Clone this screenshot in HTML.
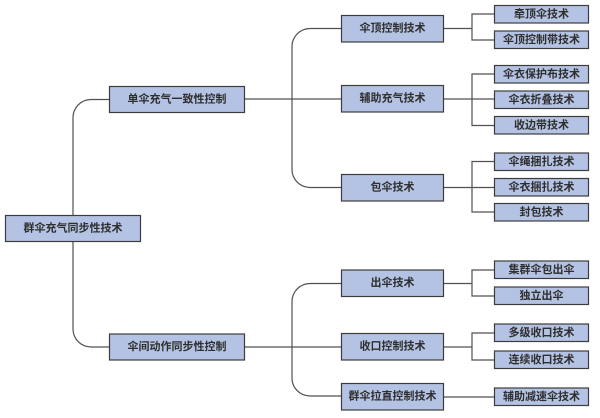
<!DOCTYPE html>
<html><head><meta charset="utf-8"><style>
html,body{margin:0;padding:0;background:#fff;}
svg{display:block;}
text{font-family:"Liberation Sans","Noto Sans CJK SC",sans-serif;font-size:11px;font-weight:bold;fill:#2e2e2e;text-anchor:middle;dominant-baseline:central;}
.b{fill:#b4c3e3;stroke:#3c3c3c;stroke-width:1.2;}
.l{fill:none;stroke:#505050;stroke-width:1.2;}
</style></head><body>
<svg width="600" height="418" viewBox="0 0 600 418" xmlns="http://www.w3.org/2000/svg">
<!-- root connector -->
<path class="l" d="M109 99.5 H91 A18 18 0 0 0 73 117.5 V329 A18 18 0 0 0 91 347 H109"/>
<!-- level1 -> level2 -->
<path class="l" d="M244 99 H341"/>
<path class="l" d="M341 28.5 H310 A18 18 0 0 0 292 46.5 V169.5 A18 18 0 0 0 310 187.5 H341"/>
<path class="l" d="M244 347 H341"/>
<path class="l" d="M341 283.5 H310 A18 18 0 0 0 292 301.5 V378 A18 18 0 0 0 310 396 H341"/>
<!-- level2 -> level3 -->
<path class="l" d="M443 28.5 H472 M494 14 H472 V40 H494"/>
<path class="l" d="M443 99 H494 M494 74 H472 V125.5 H494"/>
<path class="l" d="M443 187.5 H494 M494 161.5 H472 V212 H494"/>
<path class="l" d="M443 283.5 H472 M494 270 H472 V296 H494"/>
<path class="l" d="M443 347 H472 M494 333 H472 V360 H494"/>
<path class="l" d="M443 397 H494"/>

<!-- root -->
<rect class="b" x="5.5" y="215.5" width="135" height="26"/>
<text x="73" y="228.5">群伞充气同步性技术</text>

<!-- level1 -->
<rect class="b" x="109.5" y="86.5" width="135" height="26"/>
<text x="177" y="99.5">单伞充气一致性控制</text>
<rect class="b" x="109.5" y="334" width="135" height="26"/>
<text x="177" y="347">伞间动作同步性控制</text>

<!-- level2 -->
<rect class="b" x="341.5" y="15.5" width="102" height="26.5"/>
<text x="392.5" y="28.5">伞顶控制技术</text>
<rect class="b" x="341.5" y="85.5" width="102" height="26.5"/>
<text x="392.5" y="98.5">辅助充气技术</text>
<rect class="b" x="341.5" y="174.5" width="102" height="26.5"/>
<text x="392.5" y="187.5">包伞技术</text>
<rect class="b" x="341.5" y="270" width="102" height="26.5"/>
<text x="392.5" y="283">出伞技术</text>
<rect class="b" x="341.5" y="333.5" width="102" height="26.5"/>
<text x="392.5" y="346.5">收口控制技术</text>
<rect class="b" x="341.5" y="383.5" width="102" height="26.5"/>
<text x="392.5" y="396.5">群伞拉直控制技术</text>

<!-- level3 -->
<rect class="b" x="494.5" y="5.5" width="94" height="17.5"/>
<text x="541.5" y="14.3">牵顶伞技术</text>
<rect class="b" x="494.5" y="31" width="94" height="17.5"/>
<text x="541.5" y="39.8">伞顶控制带技术</text>
<rect class="b" x="494.5" y="65.5" width="94" height="17.5"/>
<text x="541.5" y="74.3">伞衣保护布技术</text>
<rect class="b" x="494.5" y="91" width="94" height="17.5"/>
<text x="541.5" y="99.8">伞衣折叠技术</text>
<rect class="b" x="494.5" y="116.5" width="94" height="17.5"/>
<text x="541.5" y="125.3">收边带技术</text>
<rect class="b" x="494.5" y="153" width="94" height="17.5"/>
<text x="541.5" y="161.8">伞绳捆扎技术</text>
<rect class="b" x="494.5" y="178.5" width="94" height="17.5"/>
<text x="541.5" y="187.3">伞衣捆扎技术</text>
<rect class="b" x="494.5" y="203.5" width="94" height="17.5"/>
<text x="541.5" y="212.3">封包技术</text>
<rect class="b" x="494.5" y="261" width="94" height="17.5"/>
<text x="541.5" y="269.8">集群伞包出伞</text>
<rect class="b" x="494.5" y="287" width="94" height="17.5"/>
<text x="541.5" y="295.8">独立出伞</text>
<rect class="b" x="494.5" y="324" width="94" height="17.5"/>
<text x="541.5" y="332.8">多级收口技术</text>
<rect class="b" x="494.5" y="351" width="94" height="17.5"/>
<text x="541.5" y="359.8">连续收口技术</text>
<rect class="b" x="494.5" y="388" width="94" height="17.5"/>
<text x="541.5" y="396.8">辅助减速伞技术</text>
</svg>
</body></html>
